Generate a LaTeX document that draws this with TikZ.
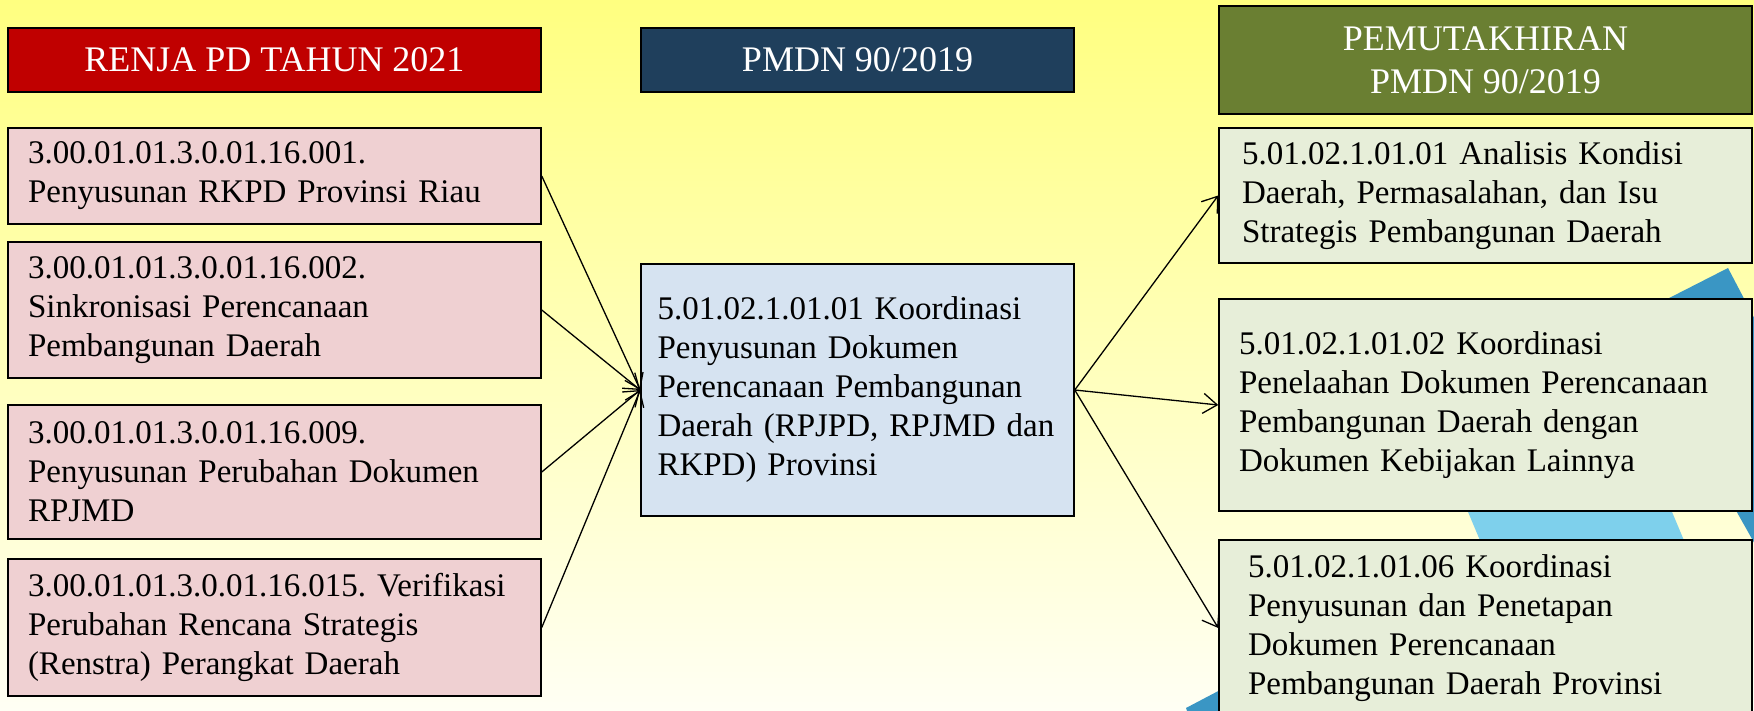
\documentclass[tikz,border=0pt]{standalone}
\usepackage{fontspec}
\setmainfont{Liberation Serif}
\usetikzlibrary{arrows.meta}
\frenchspacing

\definecolor{renjared}{HTML}{C00000}
\definecolor{pmdnblue}{HTML}{1F3F5C}
\definecolor{olivehead}{HTML}{6A7F32}
\definecolor{renjafill}{HTML}{EFD0D2}
\definecolor{pmdnfill}{HTML}{D6E3F1}
\definecolor{olivefill}{HTML}{E7EED9}
\definecolor{bandlight}{HTML}{7ED0EC}
\definecolor{banddark}{HTML}{3A96C4}
\definecolor{bgtop}{HTML}{FFFF80}
\definecolor{bgbottom}{HTML}{FFFFF4}

\begin{document}
\begin{tikzpicture}[x=1pt, y=-1pt,
		head/.style={draw=black, line width=1.6pt, text=white, font=\fontsize{36}{43}\selectfont,
			align=center, minimum width=533pt, minimum height=64pt, inner sep=0pt},
		item/.style={draw=black, line width=1.5pt, font=\fontsize{33}{39}\selectfont,
			align=left, inner xsep=20pt, inner ysep=0pt, text width=493pt},
		link/.style={line width=1.3pt, -{Straight Barb[length=14pt,width=20pt]}}]
		\useasboundingbox (0,0) rectangle (1754,711);
		\clip (0,0) rectangle (1754,711);
		\shade [top color=bgtop, bottom color=bgbottom] (0,0) rectangle (1754,711);
		% stripes behind the right column
		\fill [bandlight] (1421,400) -- (1625,400) -- (1709,600) -- (1505,600) -- cycle;
		\fill [banddark] (1728,268) -- (1628,319) -- (1849,711) -- (1960,711) -- cycle;
		\fill [banddark] (1186,708) -- (1224,688) -- (1250,720) -- (1190,720) -- cycle;

		% headers
		\node [head, fill=renjared] (renja) at (274.5,60) {RENJA PD TAHUN 2021};
		\node [head, fill=pmdnblue, minimum width=433pt] (pmdn) at (857.5,60) {PMDN 90/2019};
		\node [head, fill=olivehead, minimum height=108pt] (update) at (1485.5,60) {PEMUTAKHIRAN\\PMDN 90/2019};

		% left column
		\node [item, fill=renjafill, minimum height=96pt] (p1) at (274.5,176)
			{3.00.01.01.3.0.01.16.001.\\Penyusunan RKPD Provinsi Riau};
		\node [item, fill=renjafill, minimum height=136pt] (p2) at (274.5,310)
			{3.00.01.01.3.0.01.16.002.\\Sinkronisasi Perencanaan\\Pembangunan Daerah};
		\node [item, fill=renjafill, minimum height=134pt] (p3) at (274.5,472)
			{3.00.01.01.3.0.01.16.009.\\Penyusunan Perubahan Dokumen\\RPJMD};
		\node [item, fill=renjafill, minimum height=137pt] (p4) at (274.5,627.5)
			{3.00.01.01.3.0.01.16.015. Verifikasi\\Perubahan Rencana Strategis\\(Renstra) Perangkat Daerah};

		% middle
		\node [item, fill=pmdnfill, inner xsep=16.5pt, text width=400pt, minimum height=252pt] (c) at (857.5,390)
			{5.01.02.1.01.01 Koordinasi\\Penyusunan Dokumen\\Perencanaan Pembangunan\\Daerah (RPJPD, RPJMD dan\\RKPD) Provinsi};

		% right column
		\node [item, fill=olivefill, inner xsep=23pt, text width=487pt, minimum height=135pt] (g1) at (1485.5,195.5)
			{5.01.02.1.01.01 Analisis Kondisi\\Daerah, Permasalahan, dan Isu\\Strategis Pembangunan Daerah};
		\node [item, fill=olivefill, minimum height=212pt] (g2) at (1485.5,405)
			{5.01.02.1.01.02 Koordinasi\\Penelaahan Dokumen Perencanaan\\Pembangunan Daerah dengan\\Dokumen Kebijakan Lainnya};
		\node [item, fill=olivefill, inner xsep=29pt, text width=475pt, minimum height=176pt] (g3) at (1485.5,628)
			{5.01.02.1.01.06 Koordinasi\\Penyusunan dan Penetapan\\Dokumen Perencanaan\\Pembangunan Daerah Provinsi};

		\foreach \src in {p1, p2, p3, p4} {
			\draw [link] (\src.east) -- (c.west);
		}
		\foreach \dst in {g1, g2, g3} {
			\draw [link] (c.east) -- (\dst.west);
		}
	\end{tikzpicture}
\end{document}
